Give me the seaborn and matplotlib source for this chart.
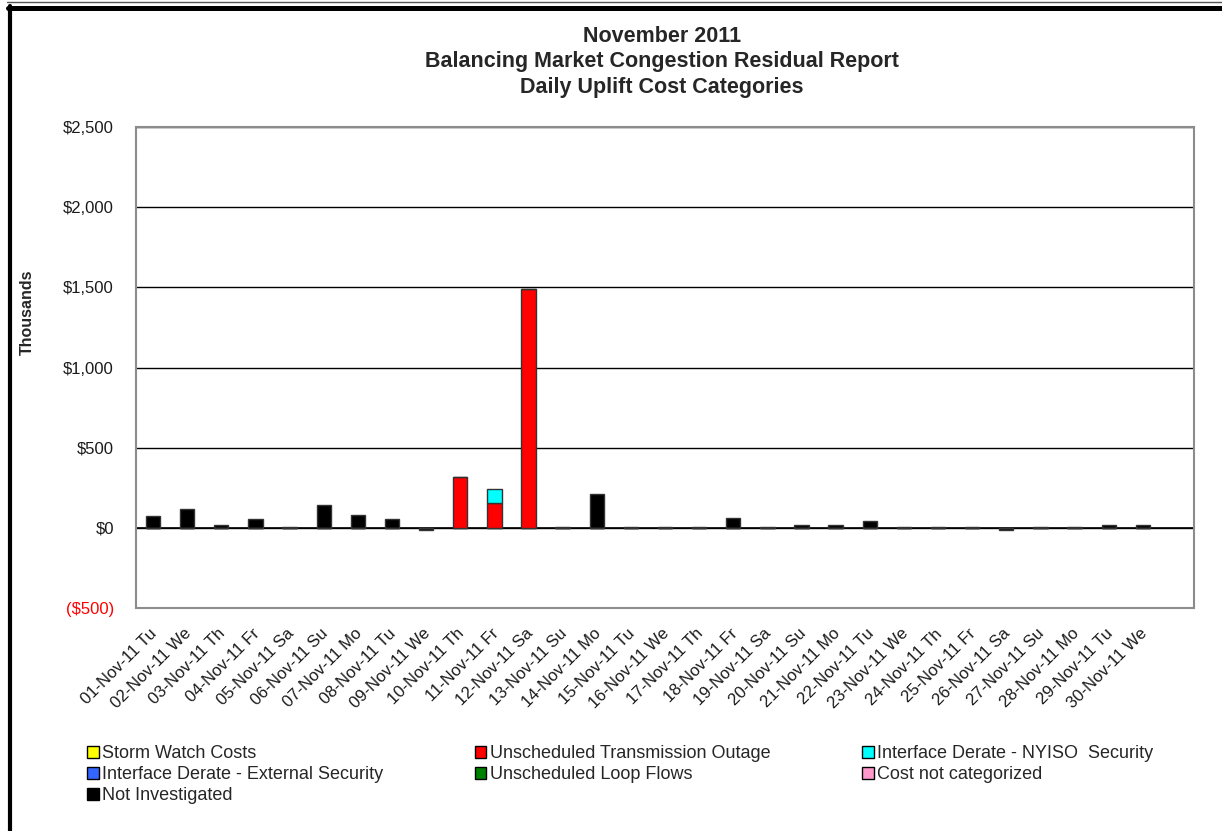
import matplotlib
matplotlib.use("Agg")
import matplotlib.pyplot as plt
import matplotlib.transforms as mtransforms
import seaborn as sns
from matplotlib.patches import Patch
from matplotlib.lines import Line2D
from matplotlib.ticker import FuncFormatter

# daily uplift cost categories, $ thousands
days = ["01-Nov-11 Tu", "02-Nov-11 We", "03-Nov-11 Th", "04-Nov-11 Fr", "05-Nov-11 Sa",
        "06-Nov-11 Su", "07-Nov-11 Mo", "08-Nov-11 Tu", "09-Nov-11 We", "10-Nov-11 Th",
        "11-Nov-11 Fr", "12-Nov-11 Sa", "13-Nov-11 Su", "14-Nov-11 Mo", "15-Nov-11 Tu",
        "16-Nov-11 We", "17-Nov-11 Th", "18-Nov-11 Fr", "19-Nov-11 Sa", "20-Nov-11 Su",
        "21-Nov-11 Mo", "22-Nov-11 Tu", "23-Nov-11 We", "24-Nov-11 Th", "25-Nov-11 Fr",
        "26-Nov-11 Sa", "27-Nov-11 Su", "28-Nov-11 Mo", "29-Nov-11 Tu", "30-Nov-11 We"]

not_investigated = [75, 119, 17, 52, 4, 143, 83, 58, -15, 0,
                    0, 0, 4, 213, 4, 4, 4, 60, 4, 20,
                    20, 45, 4, 4, 4, -12, 4, 4, 20, 20]
unsched_outage = [0, 0, 0, 0, 0, 0, 0, 0, 0, 315,
                  154, 1487, 0, 0, 0, 0, 0, 0, 0, 0,
                  0, 0, 0, 0, 0, 0, 0, 0, 0, 0]
nyiso_security = [0, 0, 0, 0, 0, 0, 0, 0, 0, 0,
                  90, 0, 0, 0, 0, 0, 0, 0, 0, 0,
                  0, 0, 0, 0, 0, 0, 0, 0, 0, 0]

legend_labels = ["Storm Watch Costs", "Interface Derate - External Security", "Not Investigated",
                 "Unscheduled Transmission Outage", "Unscheduled Loop Flows",
                 "Interface Derate - NYISO  Security", "Cost not categorized"]
legend_colors = ["#FFFF00", "#3366FF", "#000000", "#FF0000", "#008000", "#00FFFF", "#FF99CC"]

sns.set_theme(style="white")
plt.rcParams["font.family"] = ["Liberation Sans", "DejaVu Sans"]

W, H = 1222, 831
fig = plt.figure(figsize=(W / 100, H / 100), dpi=100)
ax = fig.add_axes([136 / W, 1 - 608 / H, 1058 / W, 481 / H])

bar_kw = dict(width=0.42, saturation=1, errorbar=None, edgecolor="#333333",
              linewidth=1, order=days, ax=ax, zorder=3)
sns.barplot(x=days, y=not_investigated, color="#000000", **bar_kw)
sns.barplot(x=days, y=unsched_outage, color="#FF0000", **bar_kw)
sns.barplot(x=days, y=nyiso_security, bottom=unsched_outage, color="#00FFFF", **bar_kw)

ax.set_xlim(-0.5, 30.5)
ax.set_ylim(-500, 2500)
ax.set_yticks(range(-500, 2501, 500))
ax.yaxis.set_major_formatter(FuncFormatter(
    lambda v, p: f"(${abs(v):,.0f})" if v < 0 else f"${v:,.0f}"))
ax.grid(axis="y", color="black", lw=1)
ax.set_axisbelow(True)
ax.axhline(0, color="black", lw=1.2, zorder=2)
for s in ax.spines.values():
    s.set_color("#8c8c8c")
    s.set_linewidth(1.5)

ax.tick_params(axis="y", length=0, pad=16, labelsize=12)
ax.tick_params(axis="x", length=0, pad=13, labelsize=12)
shift = mtransforms.ScaledTranslation(7 / 100, 0, fig.dpi_scale_trans)
for t in ax.get_xticklabels():
    t.set_rotation(45)
    t.set_ha("right")
    t.set_va("top")
    t.set_color("#1a1a1a")
    t.set_transform(t.get_transform() + shift)
for t in ax.get_yticklabels():
    t.set_color("#FF0000" if t.get_text().startswith("(") else "#1a1a1a")

ax.set_xlabel("")
ax.set_ylabel("Thousands", fontsize=11.5, fontweight="bold")
ax.yaxis.set_label_coords(-0.096, 0.615)

fig.text(662 / W, 1 - 62 / H,
         "November 2011\nBalancing Market Congestion Residual Report\nDaily Uplift Cost Categories",
         ha="center", va="center", fontsize=15.5, fontweight="bold", linespacing=1.3)

handles = [Patch(facecolor=c, edgecolor="black", lw=1) for c in legend_colors]
fig.legend(handles, legend_labels, loc="upper left", bbox_to_anchor=(87 / W, 1 - 745 / H),
           ncol=3, frameon=False, fontsize=13, handlelength=0.65, handleheight=0.65,
           handletextpad=0.2, columnspacing=5.05, labelspacing=0.22, borderaxespad=0, borderpad=0)

# outer frame of the report
fig.add_artist(Line2D([0.006, 1], [1 - 1.5 / H] * 2, color="#555555", lw=1))
fig.add_artist(Line2D([8 / W, 1], [1 - 7.5 / H] * 2, color="black", lw=3.6))
fig.add_artist(Line2D([10 / W] * 2, [1 - 5.5 / H, 0], color="black", lw=3))

fig.savefig("out.png", dpi=100)
